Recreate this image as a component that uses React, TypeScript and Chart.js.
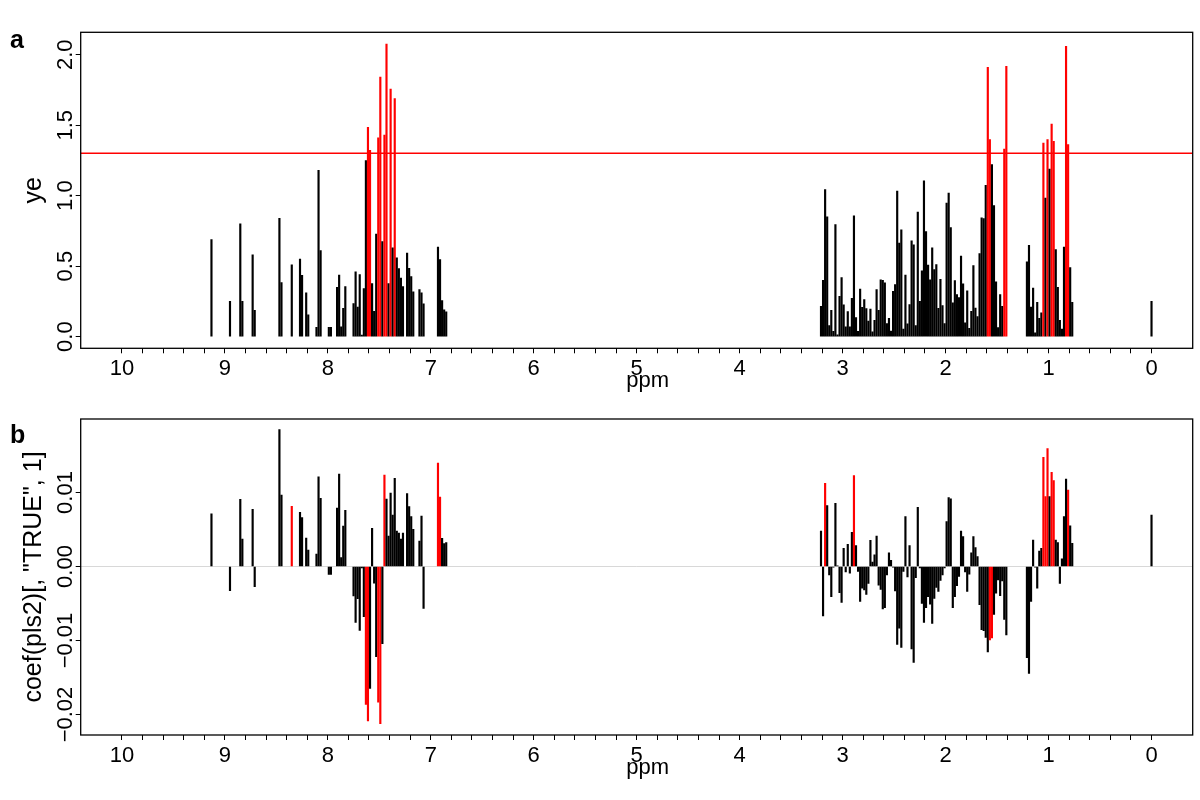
import React, { useEffect, useRef } from 'react';
import { Chart, registerables } from 'chart.js';

Chart.register(...registerables);

const FONT = '"Liberation Sans", Arial, Helvetica, sans-serif';
const RED = '#ff0000';
const BLACK = '#000000';

// x axis (ppm, reversed)
const X_MIN = -0.4;
const X_MAX = 10.4;
const X_LABELS = [10, 9, 8, 7, 6, 5, 4, 3, 2, 1, 0];
const X_MINOR_STEP = 0.2;

// aromatic bins
const PPM_AROMATIC = [9.13, 8.95, 8.85, 8.83, 8.73, 8.71, 8.47, 8.45, 8.35, 8.27, 8.25, 8.21, 8.19, 8.11, 8.09, 8.07, 7.99, 7.97, 7.91, 7.89, 7.87, 7.85, 7.83, 7.75, 7.73, 7.71, 7.69, 7.67, 7.65, 7.63, 7.61, 7.59, 7.57, 7.55, 7.53, 7.51, 7.49, 7.47, 7.45, 7.43, 7.41, 7.39, 7.37, 7.35, 7.33, 7.31, 7.29, 7.27, 7.23, 7.21, 7.19, 7.17, 7.11, 7.09, 7.07, 6.93, 6.91, 6.89, 6.87, 6.85];
const YE_AROMATIC = [0.688, 0.25, 0.8, 0.25, 0.58, 0.187, 0.84, 0.383, 0.51, 0.55, 0.435, 0.31, 0.154, 0.066, 1.18, 0.61, 0.066, 0.066, 0.35, 0.437, 0.07, 0.2, 0.355, 0.234, 0.46, 0.21, 0.44, 0.01, 0.34, 1.248, 1.484, 1.321, 0.376, 0.18, 0.728, 1.411, 1.842, 0.674, 1.43, 2.076, 0.376, 1.756, 0.629, 1.688, 0.558, 0.482, 0.416, 0.355, 0.593, 0.485, 0.425, 0.317, 0.333, 0.31, 0.232, 0.636, 0.546, 0.255, 0.19, 0.175];
const COEF_AROMATIC = [0.0071, -0.00327, 0.00908, 0.00372, 0.00773, -0.00273, 0.01849, 0.00966, 0.00813, 0.00732, 0.0066, 0.00385, 0.00223, 0.00169, 0.0121, 0.00921, -0.00106, -0.00106, 0.0079, 0.0125, 0.0012, 0.00547, 0.0076, -0.00399, -0.00755, -0.00435, -0.00863, -0.0002, -0.00678, -0.01863, -0.02088, -0.01646, 0.00516, -0.00227, -0.01219, -0.01835, -0.02124, -0.01043, 0.01236, 0.00912, 0.00412, 0.00993, 0.00696, 0.01191, 0.0048, 0.0045, 0.00372, 0.0045, 0.00984, 0.00809, 0.00674, 0.00502, 0.00345, 0.00682, -0.00565, 0.01399, 0.00939, 0.00381, 0.00308, 0.00324];

// aliphatic bins 3.21 - 1.41
const PPM_ALIPHATIC_1 = [
  3.21, 3.19, 3.17, 3.15, 3.13, 3.11, 3.09, 3.07, 3.05, 3.03,
  3.01, 2.99, 2.97, 2.95, 2.93, 2.91, 2.89, 2.87, 2.85, 2.83,
  2.81, 2.79, 2.77, 2.75, 2.73, 2.71, 2.69, 2.67, 2.65, 2.63,
  2.61, 2.59, 2.57, 2.55, 2.53, 2.51, 2.49, 2.47, 2.45, 2.43,
  2.41, 2.39, 2.37, 2.35, 2.33, 2.31, 2.29, 2.27, 2.25, 2.23,
  2.21, 2.19, 2.17, 2.15, 2.13, 2.11, 2.09, 2.07, 2.05, 2.03,
  2.01, 1.99, 1.97, 1.95, 1.93, 1.91, 1.89, 1.87, 1.85, 1.83,
  1.81, 1.79, 1.77, 1.75, 1.73, 1.71, 1.69, 1.67, 1.65, 1.63,
  1.61, 1.59, 1.57, 1.55, 1.53, 1.51, 1.49, 1.47, 1.45, 1.43, 1.41];
const YE_ALIPHATIC_1 = [
  0.215, 0.4, 1.043, 0.849, 0.078, 0.187, 0.038, 0.794, 0.012, 0.286,
  0.418, 0.225, 0.069, 0.177, 0.069, 0.272, 0.856, 0.135, 0.038, 0.338,
  0.208, 0.262, 0.199, 0.111, 0.196, 0.033, 0.116, 0.333, 0.187, 0.402,
  0.4, 0.381, 0.092, 0.13, 0.04, 0.322, 0.369, 1.033, 0.664, 0.757,
  0.054, 0.437, 0.09, 0.227, 0.679, 0.652, 0.078, 0.884, 0.251, 0.466,
  1.106, 0.745, 0.508, 0.402, 0.629, 0.475, 0.511, 0.201, 0.407, 0.22,
  0.092, 0.948, 1.019, 0.773, 0.239, 0.397, 0.298, 0.277, 0.572, 0.374,
  0.097, 0.324, 0.059, 0.18, 0.504, 0.203, 0.142, 0.589, 0.842, 0.837,
  1.073, 1.91, 1.397, 1.22, 0.929, 0.388, 0.064, 0.298, 0.215, 1.331, 1.917];
const COEF_ALIPHATIC_1 = [
  0.0048, -0.00669, 0.01124, 0.00822, -0.00115, -0.00408, -0.0001, 0.00854, 0.0001, -0.00354,
  -0.00484, 0.00246, -0.00074, 0.003, -0.0009, 0.00462, 0.01227, 0.00282, -0.00068, -0.00473,
  -0.00293, -0.00318, -0.00376, -0.00228, 0.00354, 0.00059, 0.00158, 0.00412, -0.00253, -0.0031,
  -0.00574, -0.00556, -0.00113, 0.00185, 0.00082, -0.0001, -0.00329, -0.01052, -0.00835, -0.01092,
  -0.00068, 0.00673, -0.0014, 0.00281, -0.01115, -0.01295, -0.00151, 0.008, -0.0002, -0.00498,
  -0.00755, -0.00556, -0.00408, -0.0051, -0.00768, -0.00431, -0.00284, -0.00338, -0.00189, -0.00115,
  -0.0002, 0.00606, 0.00932, 0.00914, -0.00556, -0.00408, -0.00259, -0.00135, 0.0048, 0.00403,
  -0.00074, -0.00338, -0.00104, 0.00185, 0.00403, 0.00255, 0.00135, -0.00516, -0.00853, -0.00867,
  -0.00957, -0.01155, -0.00993, -0.00966, -0.00646, -0.00362, -0.00182, -0.00394, -0.00196, -0.00714, -0.00926];

// aliphatic bins 1.21 - 0.77
const PPM_ALIPHATIC_2 = [1.21, 1.19, 1.17, 1.15, 1.13, 1.11, 1.09, 1.07, 1.05, 1.03, 1.01, 0.99, 0.97, 0.95, 0.93, 0.91, 0.89, 0.87, 0.85, 0.83, 0.81, 0.79, 0.77];
const YE_ALIPHATIC_2 = [0.53, 0.648, 0.21, 0.345, 0.026, 0.243, 0.13, 0.168, 1.373, 0.983, 1.397, 1.189, 1.508, 1.385, 0.617, 0.35, 0.116, 0.054, 0.636, 2.06, 1.362, 0.489, 0.243];
const COEF_ALIPHATIC_2 = [-0.01232, -0.01444, -0.00473, 0.00358, -0.0001, -0.00293, 0.00209, 0.00245, 0.01475, 0.00944, 0.01592, 0.00944, 0.01273, 0.01161, 0.00358, 0.00322, -0.00228, 0.00104, 0.00673, 0.01182, 0.01032, 0.00551, 0.00313];

// reference peak
const PPM_REF = [0.0];
const YE_REF = [0.25];
const COEF_REF = [0.00696];

// significance
const YE_THRESHOLD = 1.3;
const RED_COEF_PPM = [8.35, 7.63, 7.61, 7.51, 7.49, 7.45, 6.93, 6.91, 3.17, 2.89, 1.57, 1.55, 1.05, 1.03, 1.01, 0.97, 0.95, 0.81];

// y axes
const Y_TICKS_A = [0, 0.5, 1, 1.5, 2];
const Y_TICKS_B = [-0.02, -0.01, 0, 0.01];

const PPM_ALL = [...PPM_AROMATIC, ...PPM_ALIPHATIC_1, ...PPM_ALIPHATIC_2, ...PPM_REF];
const YE_ALL = [...YE_AROMATIC, ...YE_ALIPHATIC_1, ...YE_ALIPHATIC_2, ...YE_REF];
const COEF_ALL = [...COEF_AROMATIC, ...COEF_ALIPHATIC_1, ...COEF_ALIPHATIC_2, ...COEF_REF];

const X_TICKS: number[] = [];
for (let v = 0; v <= 10 + 1e-9; v += X_MINOR_STEP) X_TICKS.push(Math.round(v * 10) / 10);

const PANELS = [
  {
    letter: 'a',
    yTitle: 'ye',
    values: YE_ALL,
    colors: YE_ALL.map((v) => (v > YE_THRESHOLD ? RED : BLACK)),
    yMin: -0.083,
    yMax: 2.159,
    yTicks: Y_TICKS_A,
    fmt: (v: number) => v.toFixed(1),
    threshold: YE_THRESHOLD,
    zeroLine: false,
    top: 32.3,
    bottom: 348.3,
    letterY: 48,
  },
  {
    letter: 'b',
    yTitle: 'coef(pls2)[, "TRUE", 1]',
    values: COEF_ALL,
    colors: PPM_ALL.map((p) => (RED_COEF_PPM.includes(p) ? RED : BLACK)),
    yMin: -0.02277,
    yMax: 0.01993,
    yTicks: Y_TICKS_B,
    fmt: (v: number) => (v < 0 ? '\u2212' : '') + Math.abs(v).toFixed(2),
    threshold: null as number | null,
    zeroLine: true,
    top: 19,
    bottom: 335,
    letterY: 43,
  },
];

const CANVAS_W = 1200;
const CANVAS_H = 400;
const AREA_LEFT = 80.7;
const AREA_RIGHT = 1192.7;

function makeTextPlugin(cfg: any) {
  return {
    id: 'rTexts',
    afterDraw(chart: any) {
      const { ctx, chartArea: ca, scales } = chart;
      ctx.save();
      ctx.strokeStyle = '#000';
      ctx.lineWidth = 1.3;
      ctx.strokeRect(ca.left, ca.top, ca.right - ca.left, ca.bottom - ca.top);

      ctx.fillStyle = '#000';
      ctx.font = `22px ${FONT}`;
      ctx.textAlign = 'center';
      ctx.textBaseline = 'alphabetic';
      for (const v of X_LABELS) {
        ctx.fillText(String(v), scales.x.getPixelForValue(v), ca.bottom + 27);
      }
      ctx.fillText('ppm', (ca.left + ca.right) / 2 + 11, ca.bottom + 39);

      ctx.font = `22px ${FONT}`;
      for (const v of cfg.yTicks) {
        const py = scales.y.getPixelForValue(v);
        ctx.save();
        ctx.translate(ca.left - 9, py);
        ctx.rotate(-Math.PI / 2);
        ctx.textAlign = 'center';
        ctx.fillText(cfg.fmt(v), 0, 0);
        ctx.restore();
      }

      ctx.font = `25px ${FONT}`;
      ctx.save();
      ctx.translate(41, (ca.top + ca.bottom) / 2);
      ctx.rotate(-Math.PI / 2);
      ctx.textAlign = 'center';
      ctx.fillText(cfg.yTitle, 0, 0);
      ctx.restore();

      ctx.font = `bold 25px ${FONT}`;
      ctx.textAlign = 'left';
      ctx.fillText(cfg.letter, 10, cfg.letterY);
      ctx.restore();
    },
  };
}

function Panel({ cfg }: { cfg: any }) {
  const ref = useRef<HTMLCanvasElement>(null);
  useEffect(() => {
    const canvas = ref.current;
    if (!canvas) return;
    const datasets: any[] = [];
    if (cfg.threshold != null) {
      datasets.push({
        type: 'line',
        data: [
          { x: X_MIN, y: cfg.threshold },
          { x: X_MAX, y: cfg.threshold },
        ],
        borderColor: RED,
        borderWidth: 1.5,
        pointRadius: 0,
        fill: false,
        order: 0,
      });
    }
    datasets.push({
      type: 'bar',
      data: PPM_ALL.map((p, i) => ({ x: p, y: cfg.values[i] })),
      backgroundColor: cfg.colors,
      borderWidth: 0,
      barThickness: 1.5,
      order: 1,
    });
    const chart = new Chart(canvas, {
      type: 'bar',
      data: { datasets },
      options: {
        responsive: false,
        animation: false,
        devicePixelRatio: 1,
        layout: {
          padding: { left: 0, right: CANVAS_W - AREA_RIGHT, top: cfg.top, bottom: 0 },
        },
        plugins: { legend: { display: false }, tooltip: { enabled: false } },
        scales: {
          x: {
            type: 'linear',
            reverse: true,
            min: X_MIN,
            max: X_MAX,
            offset: false,
            grid: {
              display: true,
              offset: false,
              drawOnChartArea: false,
              drawTicks: true,
              tickLength: 5,
              tickColor: '#000',
              tickWidth: 1,
            },
            border: { display: false },
            ticks: { display: false },
            afterBuildTicks: (s: any) => {
              s.ticks = X_TICKS.map((v) => ({ value: v }));
            },
            afterFit: (s: any) => {
              s.height = CANVAS_H - cfg.bottom;
            },
          },
          y: {
            type: 'linear',
            min: cfg.yMin,
            max: cfg.yMax,
            grid: {
              display: true,
              drawOnChartArea: cfg.zeroLine,
              color: (c: any) => (c.tick && Math.abs(c.tick.value) < 1e-12 ? '#d8d8d8' : 'rgba(0,0,0,0)'),
              lineWidth: 1,
              drawTicks: true,
              tickLength: 5,
              tickColor: '#000',
              tickWidth: 1,
            },
            border: { display: false },
            ticks: { display: false },
            afterBuildTicks: (s: any) => {
              s.ticks = cfg.yTicks.map((v: number) => ({ value: v }));
            },
            afterFit: (s: any) => {
              s.width = AREA_LEFT;
            },
          },
        },
      } as any,
      plugins: [makeTextPlugin(cfg)],
    });
    return () => chart.destroy();
  }, [cfg]);
  return (
    <canvas
      ref={ref}
      width={CANVAS_W}
      height={CANVAS_H}
      style={{ display: 'block', width: CANVAS_W, height: CANVAS_H }}
    />
  );
}

export default function App() {
  return (
    <div style={{ position: 'absolute', left: 0, top: 0, width: 1200, height: 800, background: '#fff' }}>
      {PANELS.map((p) => (
        <Panel key={p.letter} cfg={p} />
      ))}
    </div>
  );
}
